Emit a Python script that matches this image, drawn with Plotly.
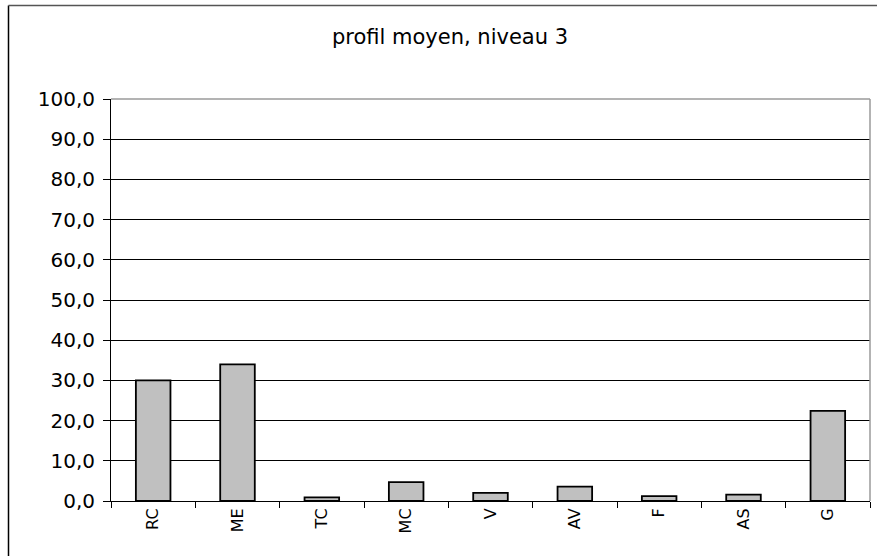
import plotly.graph_objects as go

categories = ["RC", "ME", "TC", "MC", "V", "AV", "F", "AS", "G"]
values = [30.0, 34.0, 0.9, 4.7, 2.0, 3.6, 1.2, 1.6, 22.4]
y_ticks = [0, 10, 20, 30, 40, 50, 60, 70, 80, 90, 100]

W, H = 877, 556
L, R, T, B = 111, 7, 99, 55

fig = go.Figure(
    go.Bar(
        x=categories,
        y=values,
        marker=dict(color="#C0C0C0", line=dict(color="#000000", width=1.8)),
        hoverinfo="x+y",
    )
)

font_family = "DejaVu Sans, Liberation Sans, Arial, sans-serif"

fig.update_layout(
    width=W,
    height=H,
    margin=dict(l=L, r=R, t=T, b=B, pad=0),
    paper_bgcolor="white",
    plot_bgcolor="white",
    separators=", ",
    bargap=0.59,
    showlegend=False,
    font=dict(family=font_family, color="#000000"),
    title=dict(
        text="profil moyen, niveau 3",
        font=dict(size=21, family=font_family, color="#000000"),
        xref="container",
        yref="container",
        x=450 / W,
        y=1 - 37 / H,
        xanchor="center",
        yanchor="middle",
    ),
    xaxis=dict(
        type="category",
        showline=True,
        linecolor="#000000",
        linewidth=1,
        showgrid=False,
        ticks="outside",
        tickson="boundaries",
        ticklen=6,
        tickcolor="#000000",
        tickangle=-90,
        tickfont=dict(size=16, family=font_family),
        zeroline=False,
    ),
    yaxis=dict(
        range=[0, 100],
        tickvals=y_ticks,
        tickformat=".1f",
        showline=True,
        linecolor="#000000",
        linewidth=1,
        showgrid=True,
        gridcolor="#000000",
        gridwidth=1,
        ticks="outside",
        ticklen=7,
        tickcolor="#000000",
        tickfont=dict(size=20, family=font_family),
        ticklabelstandoff=4,
        zeroline=False,
    ),
)

# Gray plot-area border on top and right
fig.add_shape(type="line", xref="paper", yref="paper", x0=0, x1=1, y0=1, y1=1,
              line=dict(color="#9A9A9A", width=1.5), layer="above")
fig.add_shape(type="line", xref="paper", yref="paper", x0=1, x1=1, y0=0, y1=1,
              line=dict(color="#9A9A9A", width=1.5), layer="above")

# Outer chart frame: only its left and top edges fall inside the page
pw, ph = W - L - R, H - T - B
fx = (8.5 - L) / pw
fy = 1 + (T - 5.5) / ph
fig.add_shape(type="line", xref="paper", yref="paper",
              x0=fx, x1=fx, y0=fy, y1=-B / ph,
              line=dict(color="#000000", width=1.5), layer="above")
fig.add_shape(type="line", xref="paper", yref="paper",
              x0=fx, x1=1 + R / pw, y0=fy, y1=fy,
              line=dict(color="#555555", width=1.5), layer="above")

fig.write_html("out.html")
